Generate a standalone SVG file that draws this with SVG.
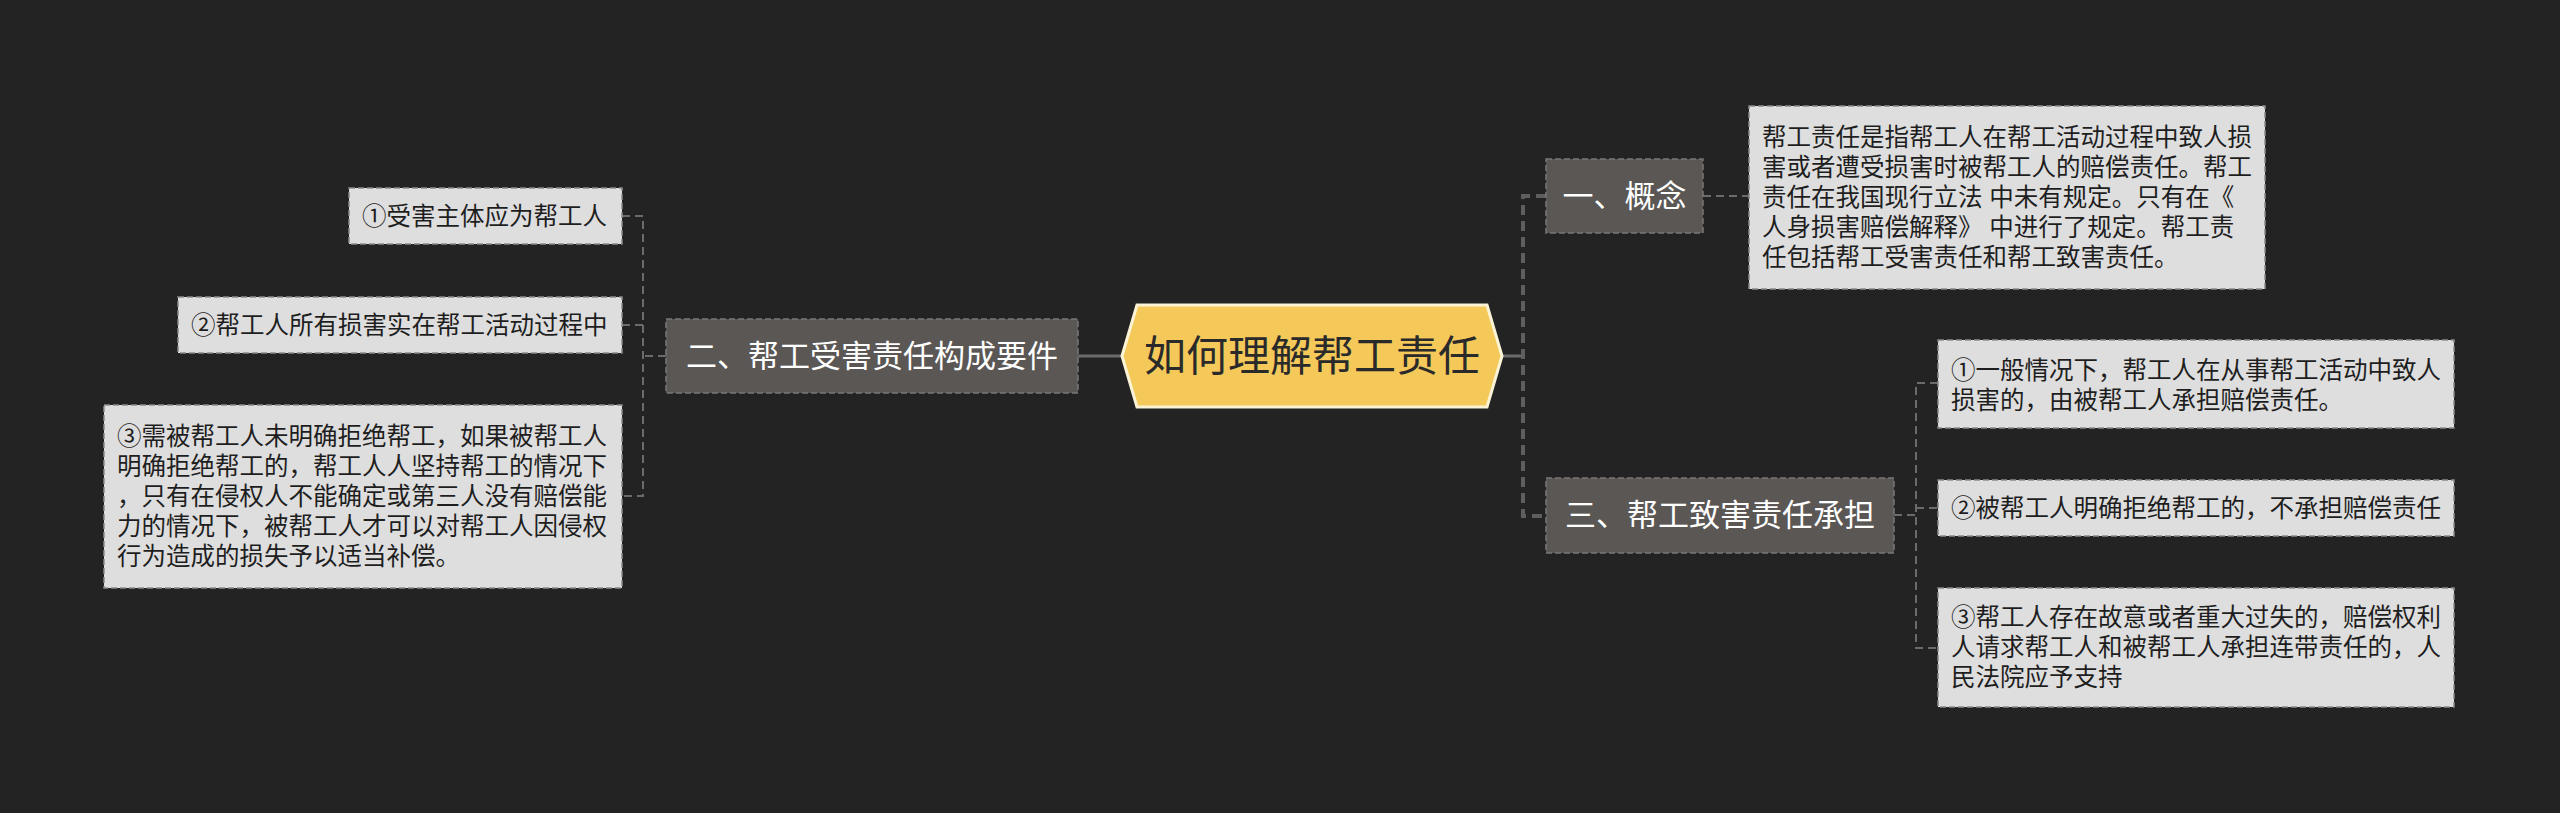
<svg xmlns="http://www.w3.org/2000/svg" width="2560" height="813" viewBox="0 0 2560 813">
<style>
.bg{fill:#232323}
.t{font-family:"Liberation Sans","Noto Sans CJK SC",sans-serif;dominant-baseline:central}
.l1 rect{fill:#5a5755;stroke:#7a7775;stroke-width:1.5;stroke-dasharray:6 3}
.l1 text{fill:#ffffff;font-size:31px;text-anchor:middle}
.leaf rect{fill:#dedede;stroke:#8a8a8a;stroke-width:1.5;stroke-dasharray:6 3}
.leaf text{fill:#1e1e1e;font-size:24.5px}
.solid{stroke:#6b6b6b;stroke-width:3;fill:none}
.thick{stroke:#5e5e5e;stroke-width:4;fill:none;stroke-dasharray:10 6}
.dash{stroke:#6b6b6b;stroke-width:2;fill:none;stroke-dasharray:8 5}
</style>
<rect class="bg" x="0" y="0" width="2560" height="813"/>
<g id="connectors">
<path class="solid" d="M1502 356 H1523"/>
<path class="thick" d="M1546 196 H1523 V516 H1546"/>
<path class="dash" d="M1703 196 H1749"/>
<path class="dash" d="M1894 515 H1916"/>
<path class="dash" d="M1938 383 H1916 V648 H1938"/>
<path class="dash" d="M1916 508 H1938"/>
<path class="solid" d="M1122 356 H1078"/>
<path class="dash" d="M666 356 H643"/>
<path class="dash" d="M622 216 H643 V496 H622"/>
<path class="dash" d="M643 325 H622"/>
</g>
<g id="root">
<polygon points="1122,356 1137,305 1487,305 1502,356 1487,407 1137,407" fill="#f4c95a" stroke="#fbf3d6" stroke-width="3"/>
<text class="t" x="1312" y="356" font-size="42" fill="#2a2a2a" text-anchor="middle">如何理解帮工责任</text>
</g>
<g id="n1" class="l1">
<rect x="1546" y="159" width="157" height="74"/>
<text class="t" x="1624.5" y="196">一、概念</text>
</g>
<g id="n1a" class="leaf">
<rect x="1749" y="106" width="516" height="183"/>
<text class="t" x="1762" y="137.5">帮工责任是指帮工人在帮工活动过程中致人损</text>
<text class="t" x="1762" y="167.5">害或者遭受损害时被帮工人的赔偿责任。帮工</text>
<text class="t" x="1762" y="197.5">责任在我国现行立法 中未有规定。只有在《</text>
<text class="t" x="1762" y="227.5">人身损害赔偿解释》 中进行了规定。帮工责</text>
<text class="t" x="1762" y="257.5">任包括帮工受害责任和帮工致害责任。</text>
</g>
<g id="n3" class="l1">
<rect x="1546" y="478" width="348" height="75"/>
<text class="t" x="1720" y="515.5">三、帮工致害责任承担</text>
</g>
<g id="n3a" class="leaf">
<rect x="1938" y="340" width="516" height="88"/>
<text class="t" x="1951" y="370">①一般情况下，帮工人在从事帮工活动中致人</text>
<text class="t" x="1951" y="400">损害的，由被帮工人承担赔偿责任。</text>
</g>
<g id="n3b" class="leaf">
<rect x="1938" y="480" width="516" height="56"/>
<text class="t" x="1951" y="508">②被帮工人明确拒绝帮工的，不承担赔偿责任</text>
</g>
<g id="n3c" class="leaf">
<rect x="1938" y="588" width="516" height="119"/>
<text class="t" x="1951" y="617.5">③帮工人存在故意或者重大过失的，赔偿权利</text>
<text class="t" x="1951" y="647.5">人请求帮工人和被帮工人承担连带责任的，人</text>
<text class="t" x="1951" y="677.5">民法院应予支持</text>
</g>
<g id="n2" class="l1">
<rect x="666" y="319" width="412" height="74"/>
<text class="t" x="872" y="356">二、帮工受害责任构成要件</text>
</g>
<g id="n2a" class="leaf">
<rect x="349" y="188" width="273" height="56"/>
<text class="t" x="362" y="216">①受害主体应为帮工人</text>
</g>
<g id="n2b" class="leaf">
<rect x="178" y="297" width="444" height="56"/>
<text class="t" x="191" y="325">②帮工人所有损害实在帮工活动过程中</text>
</g>
<g id="n2c" class="leaf">
<rect x="104" y="405" width="518" height="183"/>
<text class="t" x="117" y="436.5">③需被帮工人未明确拒绝帮工，如果被帮工人</text>
<text class="t" x="117" y="466.5">明确拒绝帮工的，帮工人人坚持帮工的情况下</text>
<text class="t" x="117" y="496.5">，只有在侵权人不能确定或第三人没有赔偿能</text>
<text class="t" x="117" y="526.5">力的情况下，被帮工人才可以对帮工人因侵权</text>
<text class="t" x="117" y="556.5">行为造成的损失予以适当补偿。</text>
</g>
</svg>
